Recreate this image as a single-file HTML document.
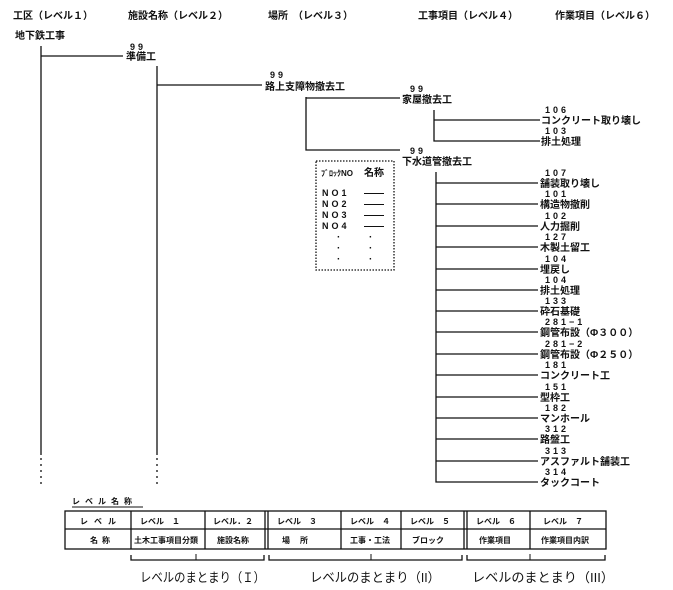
<!DOCTYPE html>
<html><head><meta charset="utf-8"><style>
html,body{margin:0;padding:0;background:#fff;}
svg{display:block;}
text{font-family:"Liberation Sans","Noto Sans CJK JP",sans-serif;font-size:10px;font-weight:bold;fill:#111;}
.s{font-size:9px;letter-spacing:3px;}
.t{font-size:8px;}
.b{font-size:13px;font-weight:normal;}
</style></head><body>
<svg width="673" height="590" viewBox="0 0 673 590" xmlns="http://www.w3.org/2000/svg">
<g stroke="#111" stroke-width="1.3" fill="none">
<line x1="41" y1="46" x2="41" y2="455"/>
<line x1="41" y1="458" x2="41" y2="486" stroke-dasharray="2,4"/>
<line x1="41" y1="56" x2="123" y2="56"/>
<line x1="157" y1="66" x2="157" y2="455"/>
<line x1="157" y1="458" x2="157" y2="486" stroke-dasharray="2,4"/>
<line x1="157" y1="85" x2="262" y2="85"/>
<polyline points="306,97 306,150 400,150"/>
<line x1="306" y1="98" x2="400" y2="98"/>
<polyline points="434,110 434,141 540,141"/>
<line x1="434" y1="120" x2="540" y2="120"/>
<polyline points="436,172 436,482 538,482"/>
<line x1="436" y1="183" x2="538" y2="183"/><line x1="436" y1="204" x2="538" y2="204"/>
<line x1="436" y1="226" x2="538" y2="226"/><line x1="436" y1="247" x2="538" y2="247"/>
<line x1="436" y1="269" x2="538" y2="269"/><line x1="436" y1="290" x2="538" y2="290"/>
<line x1="436" y1="311" x2="538" y2="311"/><line x1="436" y1="332" x2="538" y2="332"/>
<line x1="436" y1="354" x2="538" y2="354"/><line x1="436" y1="375" x2="538" y2="375"/>
<line x1="436" y1="397" x2="538" y2="397"/><line x1="436" y1="418" x2="538" y2="418"/>
<line x1="436" y1="439" x2="538" y2="439"/><line x1="436" y1="461" x2="538" y2="461"/>
<rect x="316" y="161" width="78" height="109" stroke-dasharray="1.5,1.5"/>
<rect x="65" y="511" width="541" height="38"/>
<line x1="65" y1="529" x2="606" y2="529"/>
<line x1="131" y1="511" x2="131" y2="549"/><line x1="205" y1="511" x2="205" y2="549"/>
<line x1="265" y1="511" x2="265" y2="549"/><line x1="268" y1="511" x2="268" y2="549"/>
<line x1="341" y1="511" x2="341" y2="549"/><line x1="401" y1="511" x2="401" y2="549"/>
<line x1="464" y1="511" x2="464" y2="549"/><line x1="467" y1="511" x2="467" y2="549"/>
<line x1="530" y1="511" x2="530" y2="549"/>
<line x1="72" y1="507" x2="143" y2="507" stroke-width="1"/>
<polyline points="131,555 131,560 264,560 264,555"/>
<polyline points="269,555 269,560 462,560 462,555"/>
<polyline points="467,555 467,560 605,560 605,555"/>
<line x1="196" y1="560" x2="196" y2="554" stroke-width="1"/>
<line x1="371" y1="560" x2="371" y2="554" stroke-width="1"/>
<line x1="530" y1="560" x2="530" y2="554" stroke-width="1"/>
</g>
<text x="13" y="19">工区（レベル１）</text>
<text x="128" y="19">施設名称（レベル２）</text>
<text x="268" y="19">場所　（レベル３）</text>
<text x="418" y="19">工事項目（レベル４）</text>
<text x="555" y="19">作業項目（レベル６）</text>
<text x="15" y="39">地下鉄工事</text>
<text x="130" y="50" class="s">99</text><text x="126" y="60">準備工</text>
<text x="270" y="78" class="s">99</text><text x="265" y="90">路上支障物撤去工</text>
<text x="410" y="92" class="s">99</text><text x="402" y="103">家屋撤去工</text>
<text x="545" y="113" class="s">106</text><text x="541" y="124">コンクリート取り壊し</text>
<text x="545" y="134" class="s">103</text><text x="541" y="145">排土処理</text>
<text x="410" y="154" class="s">99</text><text x="402" y="165">下水道管撤去工</text>
<text x="321" y="176" class="t">ﾌﾞﾛｯｸNO</text><text x="364" y="176">名称</text>
<text x="322" y="196" class="s">NO1</text><text x="364" y="196">――</text>
<text x="322" y="207" class="s">NO2</text><text x="364" y="207">――</text>
<text x="322" y="218" class="s">NO3</text><text x="364" y="218">――</text>
<text x="322" y="229" class="s">NO4</text><text x="364" y="229">――</text>
<text x="337" y="240">·</text><text x="369" y="240">·</text>
<text x="337" y="251">·</text><text x="369" y="251">·</text>
<text x="337" y="262">·</text><text x="369" y="262">·</text>
<g>
<text x="545" y="176" class="s">107</text><text x="540" y="187">舗装取り壊し</text>
<text x="545" y="197" class="s">101</text><text x="540" y="208">構造物撤削</text>
<text x="545" y="219" class="s">102</text><text x="540" y="230">人力掘削</text>
<text x="545" y="240" class="s">127</text><text x="540" y="251">木製土留工</text>
<text x="545" y="262" class="s">104</text><text x="540" y="273">埋戻し</text>
<text x="545" y="283" class="s">104</text><text x="540" y="294">排土処理</text>
<text x="545" y="304" class="s">133</text><text x="540" y="315">砕石基礎</text>
<text x="545" y="325" class="s">281−1</text><text x="540" y="336">鋼管布設（Φ３００）</text>
<text x="545" y="347" class="s">281−2</text><text x="540" y="358">鋼管布設（Φ２５０）</text>
<text x="545" y="368" class="s">181</text><text x="540" y="379">コンクリート工</text>
<text x="545" y="390" class="s">151</text><text x="540" y="401">型枠工</text>
<text x="545" y="411" class="s">182</text><text x="540" y="422">マンホール</text>
<text x="545" y="432" class="s">312</text><text x="540" y="443">路盤工</text>
<text x="545" y="454" class="s">313</text><text x="540" y="465">アスファルト舗装工</text>
<text x="545" y="475" class="s">314</text><text x="540" y="486">タックコート</text>
</g>
<text x="72" y="504" class="t" style="letter-spacing:5px">レベル名称</text>
<g class="t">
<text x="80" y="524" class="t" style="letter-spacing:6px">レベル</text>
<text x="90" y="543" class="t" style="letter-spacing:4px">名称</text>
<text x="140" y="524" class="t">レベル　１</text>
<text x="134" y="543" class="t">土木工事項目分類</text>
<text x="213" y="524" class="t">レベル．２</text>
<text x="217" y="543" class="t">施設名称</text>
<text x="277" y="524" class="t">レベル　３</text>
<text x="282" y="543" class="t" style="letter-spacing:10px">場所</text>
<text x="350" y="524" class="t">レベル　４</text>
<text x="350" y="543" class="t">工事・工法</text>
<text x="410" y="524" class="t">レベル　５</text>
<text x="412" y="543" class="t">ブロック</text>
<text x="476" y="524" class="t">レベル　６</text>
<text x="479" y="543" class="t">作業項目</text>
<text x="543" y="524" class="t">レベル　７</text>
<text x="541" y="543" class="t">作業項目内訳</text>
</g>
<text x="140" y="582" class="b" textLength="125" lengthAdjust="spacingAndGlyphs">レベルのまとまり（Ｉ）</text>
<text x="310" y="582" class="b" textLength="130" lengthAdjust="spacingAndGlyphs">レベルのまとまり（II）</text>
<text x="472" y="582" class="b" textLength="142" lengthAdjust="spacingAndGlyphs">レベルのまとまり（III）</text>
</svg>
</body></html>
